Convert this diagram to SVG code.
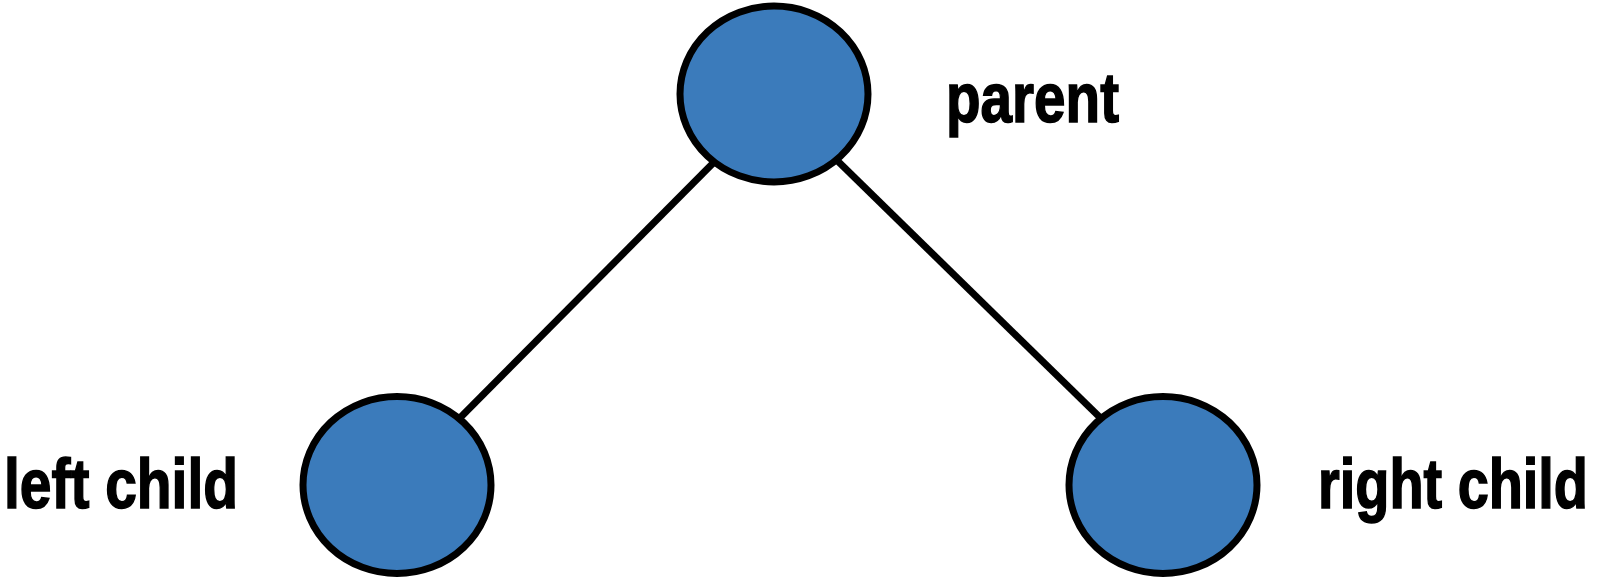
<svg xmlns="http://www.w3.org/2000/svg" width="1600" height="579" viewBox="0 0 1600 579">
  <style>
    .node { fill: #3b7bbb; stroke: #000; stroke-width: 7; }
    .edge { stroke: #000; stroke-width: 7; fill: none; }
    .label { font-family: "Liberation Sans", Arial, sans-serif; font-weight: bold; font-size: 71px; fill: #000; stroke: #000; stroke-width: 1.6; }
  </style>
  <rect width="1600" height="579" fill="#fff"/>
  <g id="connectors">
    <line class="edge" x1="740" y1="136" x2="440" y2="438"/>
    <line class="edge" x1="808" y1="132" x2="1120" y2="437"/>
  </g>
  <g id="parent">
    <ellipse class="node" cx="774" cy="94" rx="94" ry="88"/>
    <text class="label" x="946" y="122" textLength="173" lengthAdjust="spacingAndGlyphs">parent</text>
  </g>
  <g id="left-child">
    <ellipse class="node" cx="397" cy="485" rx="94" ry="88.5"/>
    <text class="label" x="4" y="508" textLength="234" lengthAdjust="spacingAndGlyphs">left child</text>
  </g>
  <g id="right-child">
    <ellipse class="node" cx="1163" cy="485" rx="94" ry="88.5"/>
    <text class="label" x="1318" y="508" textLength="270" lengthAdjust="spacingAndGlyphs">right child</text>
  </g>
</svg>
